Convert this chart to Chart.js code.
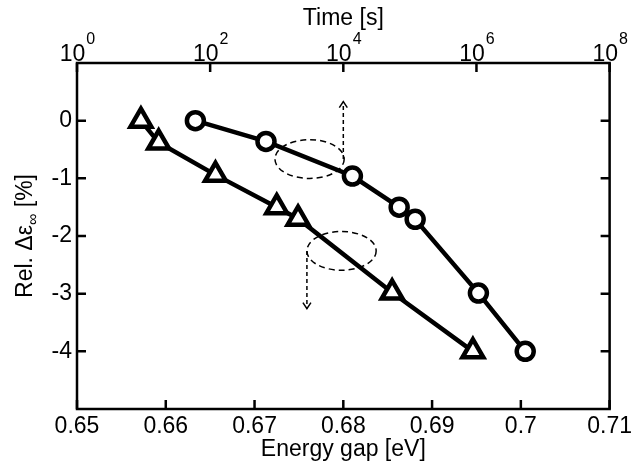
<!DOCTYPE html>
<html>
<head>
<meta charset="utf-8">
<script src="https://cdn.jsdelivr.net/npm/chart.js@4/dist/chart.umd.min.js"></script>
<style>
  html, body { margin: 0; padding: 0; background: #fff; }
  #wrap { width: 636px; height: 468px; }
</style>
</head>
<body>
<div id="wrap"><canvas id="myChart"></canvas></div>
<script>
// triangles - read on the bottom axis (energy gap, eV)
var gapX = [0.6572, 0.6592, 0.6656, 0.6725, 0.6749, 0.6855, 0.6946];
var gapY = [0, -0.38, -0.94, -1.50, -1.70, -2.98, -4.0];

// circles - read on the top axis (time, s)
var timeX = [60, 690, 13700, 69000, 120000, 1070000, 5400000];
var timeY = [0, -0.36, -0.96, -1.50, -1.71, -2.99, -4.0];

var gapTicks = [0.65, 0.66, 0.67, 0.68, 0.69, 0.70, 0.71];
var timeTicks = [1, 1e2, 1e4, 1e6, 1e8];
var yTicks = [0, -1, -2, -3, -4];

var FONT = 'Liberation Sans, Arial, sans-serif';
var FS = 23;
var tickLen = 9;

// dashed ellipses + arrows, in data units of the bottom axis / y axis
var marks = [
  { cx: 0.6762, cy: -0.666, rx: 0.0039, ry: 0.336, ax: 0.6800, ay0: -0.666, ay1: 0.33 },
  { cx: 0.6798, cy: -2.258, rx: 0.0039, ry: 0.336, ax: 0.6759, ay0: -2.258, ay1: -3.26 }
];

function pts(xs, ys) {
  return xs.map(function (v, i) { return { x: v, y: ys[i] }; });
}

var annotations = {
  id: 'annotations',
  beforeDatasetsDraw: function (chart) {
    var ctx = chart.ctx, s = chart.scales;
    ctx.save();
    ctx.strokeStyle = '#000';
    ctx.lineWidth = 1.5;
    marks.forEach(function (m) {
      var cx = s.x.getPixelForValue(m.cx), cy = s.y.getPixelForValue(m.cy);
      var rx = s.x.getPixelForValue(m.cx + m.rx) - cx;
      var ry = s.y.getPixelForValue(m.cy - m.ry) - cy;
      ctx.setLineDash([6, 4]);
      ctx.beginPath();
      ctx.ellipse(cx, cy, rx, ry, 0, 0, Math.PI * 2);
      ctx.stroke();
      var ax = s.x.getPixelForValue(m.ax);
      var y0 = s.y.getPixelForValue(m.ay0), y1 = s.y.getPixelForValue(m.ay1);
      ctx.setLineDash([4, 3]);
      ctx.beginPath();
      ctx.moveTo(ax, y0);
      ctx.lineTo(ax, y1);
      ctx.stroke();
      var d = y1 < y0 ? 1 : -1;
      ctx.setLineDash([]);
      ctx.beginPath();
      ctx.moveTo(ax - 4, y1 + d * 6);
      ctx.lineTo(ax, y1);
      ctx.lineTo(ax + 4, y1 + d * 6);
      ctx.stroke();
    });
    ctx.restore();
  }
};

var frame = {
  id: 'frame',
  afterDraw: function (chart) {
    var ctx = chart.ctx, a = chart.chartArea, s = chart.scales;
    ctx.save();
    ctx.strokeStyle = '#000';
    ctx.lineWidth = 2.5;
    ctx.beginPath();
    gapTicks.forEach(function (v) {
      var px = s.x.getPixelForValue(v);
      ctx.moveTo(px, a.bottom); ctx.lineTo(px, a.bottom - tickLen);
    });
    timeTicks.forEach(function (v) {
      var px = s.x2.getPixelForValue(v);
      ctx.moveTo(px, a.top); ctx.lineTo(px, a.top + tickLen);
    });
    yTicks.forEach(function (v) {
      var py = s.y.getPixelForValue(v);
      ctx.moveTo(a.left, py); ctx.lineTo(a.left + tickLen, py);
      ctx.moveTo(a.right, py); ctx.lineTo(a.right - tickLen, py);
    });
    ctx.stroke();
    ctx.strokeRect(a.left, a.top, a.right - a.left, a.bottom - a.top);

    // top tick labels 10^n
    ctx.fillStyle = '#000';
    ctx.textBaseline = 'alphabetic';
    ctx.textAlign = 'left';
    timeTicks.forEach(function (v) {
      var px = s.x2.getPixelForValue(v);
      var e = String(Math.round(Math.log10(v)));
      ctx.font = FS + 'px ' + FONT;
      var w1 = ctx.measureText('10').width;
      ctx.font = '16px ' + FONT;
      var w2 = ctx.measureText(e).width;
      var x0 = px - (w1 + w2) / 2;
      ctx.font = FS + 'px ' + FONT;
      ctx.fillText('10', x0, a.top - 2);
      ctx.font = '16px ' + FONT;
      ctx.fillText(e, x0 + w1 + 1, a.top - 19);
    });

    // y title with subscript
    var parts = [['Rel. \u0394\u03b5', FS, 0], ['\u221e', 16, 6], [' [%]', FS, 0]];
    var total = 0;
    parts.forEach(function (p) { ctx.font = p[1] + 'px ' + FONT; p.push(ctx.measureText(p[0]).width); total += p[3]; });
    ctx.translate(32, (a.top + a.bottom) / 2);
    ctx.rotate(-Math.PI / 2);
    var x = -total / 2;
    parts.forEach(function (p) {
      ctx.font = p[1] + 'px ' + FONT;
      ctx.fillText(p[0], x, p[2]);
      x += p[3];
    });
    ctx.restore();
  }
};

new Chart(document.getElementById('myChart').getContext('2d'), {
  type: 'line',
  data: {
    datasets: [{
      label: 'Time',
      data: pts(timeX, timeY),
      xAxisID: 'x2',
      borderColor: '#000',
      borderWidth: 4.5,
      pointStyle: 'circle',
      pointRadius: 8.5,
      pointBorderWidth: 4.5,
      pointBackgroundColor: '#fff',
      pointBorderColor: '#000'
    }, {
      label: 'Energy gap',
      data: pts(gapX, gapY),
      xAxisID: 'x',
      borderColor: '#000',
      borderWidth: 4.5,
      pointStyle: 'triangle',
      pointRadius: 12,
      pointBorderWidth: 4.5,
      pointBackgroundColor: '#fff',
      pointBorderColor: '#000'
    }]
  },
  options: {
    responsive: true,
    maintainAspectRatio: false,
    animation: false,
    devicePixelRatio: 1,
    layout: { padding: { right: 24 } },
    plugins: { legend: { display: false }, tooltip: { enabled: false } },
    scales: {
      x: {
        type: 'linear', position: 'bottom', min: 0.65, max: 0.71,
        afterBuildTicks: function (sc) { sc.ticks = gapTicks.map(function (v) { return { value: v }; }); },
        afterFit: function (sc) { sc.height = 59; },
        grid: { display: false, drawTicks: false },
        border: { display: false },
        ticks: {
          color: '#000', padding: 4, maxRotation: 0, autoSkip: false,
          font: { family: FONT, size: FS },
          callback: function (v) { return String(Number(v.toFixed(2))); }
        },
        title: { display: true, text: 'Energy gap [eV]', color: '#000', font: { family: FONT, size: FS }, padding: { top: 0, bottom: 5 } }
      },
      x2: {
        type: 'logarithmic', position: 'top', min: 1, max: 1e8,
        afterBuildTicks: function (sc) { sc.ticks = timeTicks.map(function (v) { return { value: v }; }); },
        afterFit: function (sc) { sc.height = 63; },
        grid: { display: false, drawTicks: false },
        border: { display: false },
        ticks: { display: false },
        title: { display: true, text: 'Time [s]', color: '#000', font: { family: FONT, size: FS }, padding: { top: 5, bottom: 0 } }
      },
      y: {
        type: 'linear', position: 'left', min: -5, max: 1,
        afterBuildTicks: function (sc) { sc.ticks = yTicks.map(function (v) { return { value: v }; }); },
        afterFit: function (sc) { sc.width = 77; },
        grid: { display: false, drawTicks: false },
        border: { display: false },
        ticks: { color: '#000', padding: 5, font: { family: FONT, size: FS } }
      }
    }
  },
  plugins: [annotations, frame]
});
</script>
</body>
</html>
